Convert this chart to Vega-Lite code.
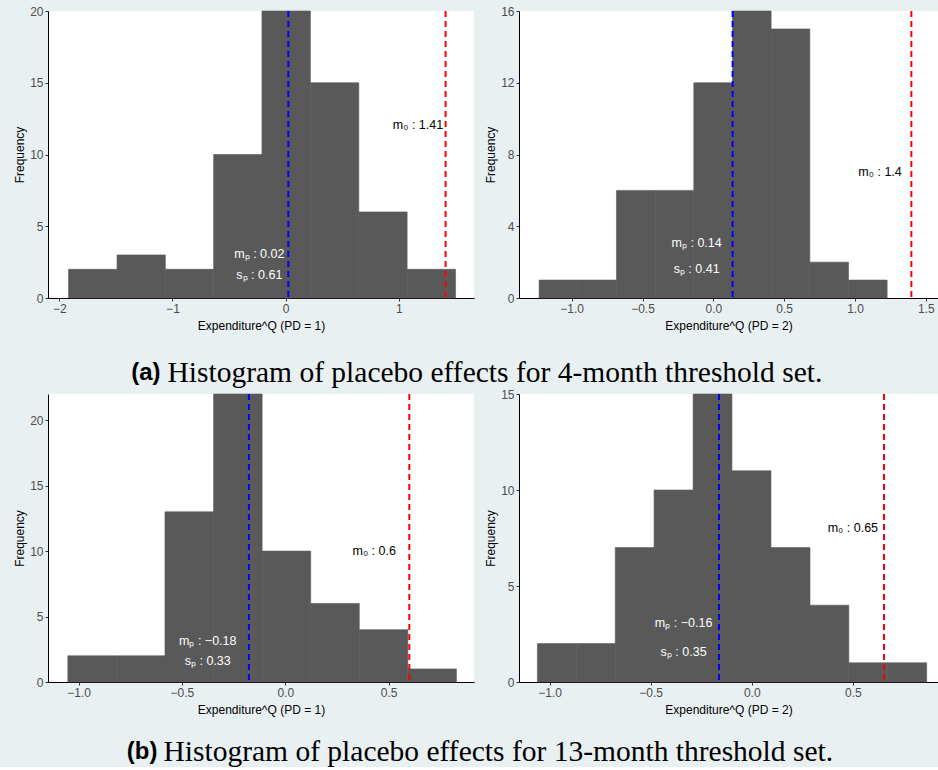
{
  "$schema": "https://vega.github.io/schema/vega-lite/v6.json",
  "padding": {"left": 13, "top": 5, "right": 0, "bottom": 0},
  "background": "#e9f0f2",
  "spacing": 0,
  "datasets": {
    "bins": [
      {"panel": 1, "lo": -1.918, "hi": -1.490, "n": 2},
      {"panel": 1, "lo": -1.490, "hi": -1.063, "n": 3},
      {"panel": 1, "lo": -1.063, "hi": -0.636, "n": 2},
      {"panel": 1, "lo": -0.636, "hi": -0.209, "n": 10},
      {"panel": 1, "lo": -0.209, "hi": 0.219, "n": 20},
      {"panel": 1, "lo": 0.219, "hi": 0.647, "n": 15},
      {"panel": 1, "lo": 0.647, "hi": 1.074, "n": 6},
      {"panel": 1, "lo": 1.074, "hi": 1.502, "n": 2},
      {"panel": 2, "lo": -1.230, "hi": -0.957, "n": 1},
      {"panel": 2, "lo": -0.957, "hi": -0.684, "n": 1},
      {"panel": 2, "lo": -0.684, "hi": -0.411, "n": 6},
      {"panel": 2, "lo": -0.411, "hi": -0.138, "n": 6},
      {"panel": 2, "lo": -0.138, "hi": 0.135, "n": 12},
      {"panel": 2, "lo": 0.135, "hi": 0.408, "n": 16},
      {"panel": 2, "lo": 0.408, "hi": 0.681, "n": 15},
      {"panel": 2, "lo": 0.681, "hi": 0.954, "n": 2},
      {"panel": 2, "lo": 0.954, "hi": 1.227, "n": 1},
      {"panel": 3, "lo": -1.052, "hi": -0.817, "n": 2},
      {"panel": 3, "lo": -0.817, "hi": -0.582, "n": 2},
      {"panel": 3, "lo": -0.582, "hi": -0.347, "n": 13},
      {"panel": 3, "lo": -0.347, "hi": -0.112, "n": 22},
      {"panel": 3, "lo": -0.112, "hi": 0.123, "n": 10},
      {"panel": 3, "lo": 0.123, "hi": 0.358, "n": 6},
      {"panel": 3, "lo": 0.358, "hi": 0.593, "n": 4},
      {"panel": 3, "lo": 0.593, "hi": 0.828, "n": 1},
      {"panel": 4, "lo": -1.060, "hi": -0.868, "n": 2},
      {"panel": 4, "lo": -0.868, "hi": -0.675, "n": 2},
      {"panel": 4, "lo": -0.675, "hi": -0.483, "n": 7},
      {"panel": 4, "lo": -0.483, "hi": -0.290, "n": 10},
      {"panel": 4, "lo": -0.290, "hi": -0.098, "n": 15},
      {"panel": 4, "lo": -0.098, "hi": 0.095, "n": 11},
      {"panel": 4, "lo": 0.095, "hi": 0.288, "n": 7},
      {"panel": 4, "lo": 0.288, "hi": 0.480, "n": 4},
      {"panel": 4, "lo": 0.480, "hi": 0.673, "n": 1},
      {"panel": 4, "lo": 0.673, "hi": 0.865, "n": 1}
    ],
    "stats": [
      {"panel": 1, "kind": "mp", "value": 0.024},
      {"panel": 1, "kind": "m0", "value": 1.414},
      {"panel": 2, "kind": "mp", "value": 0.136},
      {"panel": 2, "kind": "m0", "value": 1.398},
      {"panel": 3, "kind": "mp", "value": -0.176},
      {"panel": 3, "kind": "m0", "value": 0.6},
      {"panel": 4, "kind": "mp", "value": -0.162},
      {"panel": 4, "kind": "m0", "value": 0.654}
    ],
    "labels": [
      {"panel": 1, "label": "m₀ : 1.41", "x": 1.17, "y": 12.06, "tone": "black"},
      {"panel": 1, "label": "mₚ : 0.02", "x": -0.232, "y": 3.07, "tone": "white"},
      {"panel": 1, "label": "sₚ : 0.61", "x": -0.232, "y": 1.6, "tone": "white"},
      {"panel": 2, "label": "m₀ : 1.4", "x": 1.177, "y": 7.04, "tone": "black"},
      {"panel": 2, "label": "mₚ : 0.14", "x": -0.118, "y": 3.08, "tone": "white"},
      {"panel": 2, "label": "sₚ : 0.41", "x": -0.118, "y": 1.6, "tone": "white"},
      {"panel": 3, "label": "m₀ : 0.6", "x": 0.43, "y": 10.0, "tone": "black"},
      {"panel": 3, "label": "mₚ : −0.18", "x": -0.375, "y": 3.13, "tone": "white"},
      {"panel": 3, "label": "sₚ : 0.33", "x": -0.375, "y": 1.6, "tone": "white"},
      {"panel": 4, "label": "m₀ : 0.65", "x": 0.5, "y": 8.03, "tone": "black"},
      {"panel": 4, "label": "mₚ : −0.16", "x": -0.337, "y": 3.08, "tone": "white"},
      {"panel": 4, "label": "sₚ : 0.35", "x": -0.337, "y": 1.56, "tone": "white"}
    ],
    "captions": [
      {"id": "a", "tag": "(a)", "body": "Histogram of placebo effects for 4-month threshold set."},
      {"id": "b", "tag": "(b)", "body": "Histogram of placebo effects for 13-month threshold set."}
    ]
  },
  "vconcat": [
    {
      "spacing": 8,
      "vconcat": [
        {
          "spacing": 10,
          "hconcat": [
            {
              "width": 426, "height": 287,
              "layer": [
                {"data": {"name": "bins"}, "transform": [{"filter": "datum.panel == 1"}],
                 "mark": {"type": "rect", "color": "#595959", "stroke": "#595959", "strokeWidth": 0.6},
                 "encoding": {
                   "x": {"field": "lo", "type": "quantitative", "title": "Expenditure^Q (PD = 1)", "scale": {"domain": [-2.1, 1.665], "nice": false, "zero": false}, "axis": {"values": [-2, -1, 0, 1], "format": "d"}},
                   "x2": {"field": "hi"},
                   "y": {"field": "n", "type": "quantitative", "title": "Frequency", "scale": {"domain": [0, 20], "nice": false}, "axis": {"values": [0, 5, 10, 15, 20]}},
                   "y2": {"datum": 0}
                 }},
                {"data": {"name": "stats"}, "transform": [{"filter": "datum.panel == 1 && datum.kind == 'mp'"}],
                 "mark": {"type": "rule", "color": "#0000ff", "strokeWidth": 2, "strokeDash": [6, 4]},
                 "encoding": {"x": {"field": "value", "type": "quantitative", "title": "Expenditure^Q (PD = 1)"}}},
                {"data": {"name": "stats"}, "transform": [{"filter": "datum.panel == 1 && datum.kind == 'm0'"}],
                 "mark": {"type": "rule", "color": "#ff0000", "strokeWidth": 2, "strokeDash": [6, 4]},
                 "encoding": {"x": {"field": "value", "type": "quantitative", "title": "Expenditure^Q (PD = 1)"}}},
                {"data": {"name": "labels"}, "transform": [{"filter": "datum.panel == 1 && datum.tone == 'black'"}],
                 "mark": {"type": "text", "color": "#000000", "font": "Liberation Sans", "fontSize": 12.5, "align": "center", "baseline": "middle"},
                 "encoding": {"x": {"field": "x", "type": "quantitative", "title": "Expenditure^Q (PD = 1)"}, "y": {"field": "y", "type": "quantitative", "title": "Frequency"}, "text": {"field": "label"}}},
                {"data": {"name": "labels"}, "transform": [{"filter": "datum.panel == 1 && datum.tone == 'white'"}],
                 "mark": {"type": "text", "color": "#ffffff", "font": "Liberation Sans", "fontSize": 12.5, "align": "center", "baseline": "middle"},
                 "encoding": {"x": {"field": "x", "type": "quantitative", "title": "Expenditure^Q (PD = 1)"}, "y": {"field": "y", "type": "quantitative", "title": "Frequency"}, "text": {"field": "label"}}}
              ]
            },
            {
              "width": 419, "height": 287,
              "layer": [
                {"data": {"name": "bins"}, "transform": [{"filter": "datum.panel == 2"}],
                 "mark": {"type": "rect", "color": "#595959", "stroke": "#595959", "strokeWidth": 0.6},
                 "encoding": {
                   "x": {"field": "lo", "type": "quantitative", "title": "Expenditure^Q (PD = 2)", "scale": {"domain": [-1.372, 1.586], "nice": false, "zero": false}, "axis": {"values": [-1, -0.5, 0, 0.5, 1, 1.5], "format": ".1f"}},
                   "x2": {"field": "hi"},
                   "y": {"field": "n", "type": "quantitative", "title": "Frequency", "scale": {"domain": [0, 16], "nice": false}, "axis": {"values": [0, 4, 8, 12, 16]}},
                   "y2": {"datum": 0}
                 }},
                {"data": {"name": "stats"}, "transform": [{"filter": "datum.panel == 2 && datum.kind == 'mp'"}],
                 "mark": {"type": "rule", "color": "#0000ff", "strokeWidth": 2, "strokeDash": [6, 4]},
                 "encoding": {"x": {"field": "value", "type": "quantitative", "title": "Expenditure^Q (PD = 2)"}}},
                {"data": {"name": "stats"}, "transform": [{"filter": "datum.panel == 2 && datum.kind == 'm0'"}],
                 "mark": {"type": "rule", "color": "#ff0000", "strokeWidth": 2, "strokeDash": [6, 4]},
                 "encoding": {"x": {"field": "value", "type": "quantitative", "title": "Expenditure^Q (PD = 2)"}}},
                {"data": {"name": "labels"}, "transform": [{"filter": "datum.panel == 2 && datum.tone == 'black'"}],
                 "mark": {"type": "text", "color": "#000000", "font": "Liberation Sans", "fontSize": 12.5, "align": "center", "baseline": "middle"},
                 "encoding": {"x": {"field": "x", "type": "quantitative", "title": "Expenditure^Q (PD = 2)"}, "y": {"field": "y", "type": "quantitative", "title": "Frequency"}, "text": {"field": "label"}}},
                {"data": {"name": "labels"}, "transform": [{"filter": "datum.panel == 2 && datum.tone == 'white'"}],
                 "mark": {"type": "text", "color": "#ffffff", "font": "Liberation Sans", "fontSize": 12.5, "align": "center", "baseline": "middle"},
                 "encoding": {"x": {"field": "x", "type": "quantitative", "title": "Expenditure^Q (PD = 2)"}, "y": {"field": "y", "type": "quantitative", "title": "Frequency"}, "text": {"field": "label"}}}
              ]
            }
          ]
        },
        {
          "width": 925, "height": 48,
          "data": {"name": "captions"},
          "transform": [{"filter": "datum.id == 'a'"}],
          "layer": [
            {"mark": {"type": "text", "align": "right", "baseline": "middle", "font": "Liberation Sans", "fontWeight": "bold", "fontSize": 24, "color": "#000000", "dx": -350, "dy": 10},
             "encoding": {"text": {"field": "tag"}}},
            {"mark": {"type": "text", "align": "left", "baseline": "middle", "font": "Liberation Serif", "fontSize": 29.5, "color": "#000000", "dx": -343, "dy": 10},
             "encoding": {"text": {"field": "body"}}}
          ]
        }
      ]
    },
    {
      "spacing": 8,
      "vconcat": [
        {
          "spacing": 10,
          "hconcat": [
            {
              "width": 426, "height": 288,
              "layer": [
                {"data": {"name": "bins"}, "transform": [{"filter": "datum.panel == 3"}],
                 "mark": {"type": "rect", "color": "#595959", "stroke": "#595959", "strokeWidth": 0.6},
                 "encoding": {
                   "x": {"field": "lo", "type": "quantitative", "title": "Expenditure^Q (PD = 1)", "scale": {"domain": [-1.148, 0.913], "nice": false, "zero": false}, "axis": {"values": [-1, -0.5, 0, 0.5], "format": ".1f"}},
                   "x2": {"field": "hi"},
                   "y": {"field": "n", "type": "quantitative", "title": "Frequency", "scale": {"domain": [0, 22], "nice": false}, "axis": {"values": [0, 5, 10, 15, 20]}},
                   "y2": {"datum": 0}
                 }},
                {"data": {"name": "stats"}, "transform": [{"filter": "datum.panel == 3 && datum.kind == 'mp'"}],
                 "mark": {"type": "rule", "color": "#0000ff", "strokeWidth": 2, "strokeDash": [6, 4]},
                 "encoding": {"x": {"field": "value", "type": "quantitative", "title": "Expenditure^Q (PD = 1)"}}},
                {"data": {"name": "stats"}, "transform": [{"filter": "datum.panel == 3 && datum.kind == 'm0'"}],
                 "mark": {"type": "rule", "color": "#ff0000", "strokeWidth": 2, "strokeDash": [6, 4]},
                 "encoding": {"x": {"field": "value", "type": "quantitative", "title": "Expenditure^Q (PD = 1)"}}},
                {"data": {"name": "labels"}, "transform": [{"filter": "datum.panel == 3 && datum.tone == 'black'"}],
                 "mark": {"type": "text", "color": "#000000", "font": "Liberation Sans", "fontSize": 12.5, "align": "center", "baseline": "middle"},
                 "encoding": {"x": {"field": "x", "type": "quantitative", "title": "Expenditure^Q (PD = 1)"}, "y": {"field": "y", "type": "quantitative", "title": "Frequency"}, "text": {"field": "label"}}},
                {"data": {"name": "labels"}, "transform": [{"filter": "datum.panel == 3 && datum.tone == 'white'"}],
                 "mark": {"type": "text", "color": "#ffffff", "font": "Liberation Sans", "fontSize": 12.5, "align": "center", "baseline": "middle"},
                 "encoding": {"x": {"field": "x", "type": "quantitative", "title": "Expenditure^Q (PD = 1)"}, "y": {"field": "y", "type": "quantitative", "title": "Frequency"}, "text": {"field": "label"}}}
              ]
            },
            {
              "width": 419, "height": 288,
              "layer": [
                {"data": {"name": "bins"}, "transform": [{"filter": "datum.panel == 4"}],
                 "mark": {"type": "rect", "color": "#595959", "stroke": "#595959", "strokeWidth": 0.6},
                 "encoding": {
                   "x": {"field": "lo", "type": "quantitative", "title": "Expenditure^Q (PD = 2)", "scale": {"domain": [-1.151, 0.921], "nice": false, "zero": false}, "axis": {"values": [-1, -0.5, 0, 0.5], "format": ".1f"}},
                   "x2": {"field": "hi"},
                   "y": {"field": "n", "type": "quantitative", "title": "Frequency", "scale": {"domain": [0, 15], "nice": false}, "axis": {"values": [0, 5, 10, 15]}},
                   "y2": {"datum": 0}
                 }},
                {"data": {"name": "stats"}, "transform": [{"filter": "datum.panel == 4 && datum.kind == 'mp'"}],
                 "mark": {"type": "rule", "color": "#0000ff", "strokeWidth": 2, "strokeDash": [6, 4]},
                 "encoding": {"x": {"field": "value", "type": "quantitative", "title": "Expenditure^Q (PD = 2)"}}},
                {"data": {"name": "stats"}, "transform": [{"filter": "datum.panel == 4 && datum.kind == 'm0'"}],
                 "mark": {"type": "rule", "color": "#ff0000", "strokeWidth": 2, "strokeDash": [6, 4]},
                 "encoding": {"x": {"field": "value", "type": "quantitative", "title": "Expenditure^Q (PD = 2)"}}},
                {"data": {"name": "labels"}, "transform": [{"filter": "datum.panel == 4 && datum.tone == 'black'"}],
                 "mark": {"type": "text", "color": "#000000", "font": "Liberation Sans", "fontSize": 12.5, "align": "center", "baseline": "middle"},
                 "encoding": {"x": {"field": "x", "type": "quantitative", "title": "Expenditure^Q (PD = 2)"}, "y": {"field": "y", "type": "quantitative", "title": "Frequency"}, "text": {"field": "label"}}},
                {"data": {"name": "labels"}, "transform": [{"filter": "datum.panel == 4 && datum.tone == 'white'"}],
                 "mark": {"type": "text", "color": "#ffffff", "font": "Liberation Sans", "fontSize": 12.5, "align": "center", "baseline": "middle"},
                 "encoding": {"x": {"field": "x", "type": "quantitative", "title": "Expenditure^Q (PD = 2)"}, "y": {"field": "y", "type": "quantitative", "title": "Frequency"}, "text": {"field": "label"}}}
              ]
            }
          ]
        },
        {
          "width": 925, "height": 43,
          "data": {"name": "captions"},
          "transform": [{"filter": "datum.id == 'b'"}],
          "layer": [
            {"mark": {"type": "text", "align": "right", "baseline": "middle", "font": "Liberation Sans", "fontWeight": "bold", "fontSize": 24, "color": "#000000", "dx": -353, "dy": 7.5},
             "encoding": {"text": {"field": "tag"}}},
            {"mark": {"type": "text", "align": "left", "baseline": "middle", "font": "Liberation Serif", "fontSize": 29.5, "color": "#000000", "dx": -347, "dy": 7.5},
             "encoding": {"text": {"field": "body"}}}
          ]
        }
      ]
    }
  ],
  "config": {
    "view": {"fill": "#ffffff", "stroke": null},
    "axis": {
      "grid": false,
      "domainColor": "#000000",
      "domainWidth": 1,
      "tickColor": "#333333",
      "tickSize": 3,
      "labelColor": "#4d4d4d",
      "labelFont": "Liberation Sans",
      "labelFontSize": 12,
      "labelPadding": 2,
      "labelFlush": false,
      "labelOverlap": false,
      "titleFont": "Liberation Sans",
      "titleFontSize": 12,
      "titleFontWeight": "normal",
      "titleColor": "#000000",
      "titlePadding": 3
    },
    "axisX": {"titlePadding": 6}
  }
}
